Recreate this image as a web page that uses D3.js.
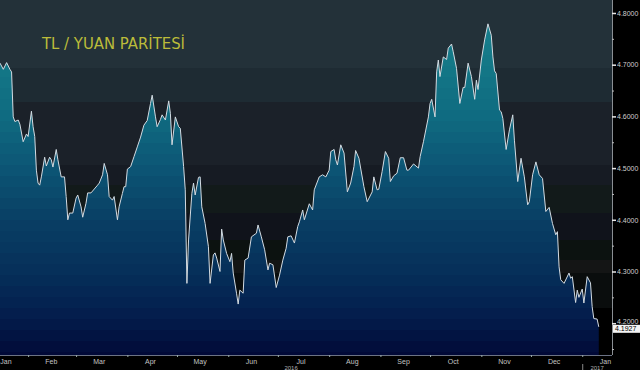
<!DOCTYPE html>
<html>
<head>
<meta charset="utf-8">
<script src="https://cdn.jsdelivr.net/npm/d3@7"></script>
<style>
  body { margin: 0; background: #000; }
  svg { display: block; }
</style>
</head>
<body>
<div class="chart"></div>
<script>
// values
var dates = [
  "2016-01-15","2016-01-17","2016-01-19","2016-01-21","2016-01-22","2016-01-23","2016-01-24","2016-01-26","2016-01-27","2016-01-29",
  "2016-01-31","2016-02-01","2016-02-03","2016-02-04","2016-02-05","2016-02-06","2016-02-07","2016-02-08","2016-02-09","2016-02-11",
  "2016-02-12","2016-02-14","2016-02-15","2016-02-16","2016-02-18","2016-02-19","2016-02-21","2016-02-23","2016-02-24","2016-02-25",
  "2016-02-26","2016-02-28","2016-03-01","2016-03-02","2016-03-04","2016-03-05","2016-03-07","2016-03-08","2016-03-10","2016-03-14",
  "2016-03-15","2016-03-17","2016-03-18","2016-03-20","2016-03-21","2016-03-23","2016-03-24","2016-03-26","2016-03-27","2016-03-29",
  "2016-03-30","2016-03-31","2016-04-01","2016-04-03","2016-04-05","2016-04-07","2016-04-09","2016-04-11","2016-04-13","2016-04-15",
  "2016-04-16","2016-04-18","2016-04-19","2016-04-21","2016-04-22","2016-04-24","2016-04-26","2016-04-27","2016-04-28","2016-04-30",
  "2016-05-02","2016-05-03","2016-05-05","2016-05-06","2016-05-07","2016-05-08","2016-05-10","2016-05-11","2016-05-12","2016-05-14",
  "2016-05-15","2016-05-16","2016-05-18","2016-05-20","2016-05-21","2016-05-23","2016-05-24","2016-05-25","2016-05-27","2016-05-28",
  "2016-05-29","2016-05-31","2016-06-02","2016-06-03","2016-06-04","2016-06-06","2016-06-07","2016-06-08","2016-06-10","2016-06-11",
  "2016-06-13","2016-06-15","2016-06-18","2016-06-19","2016-06-21","2016-06-23","2016-06-25","2016-06-26","2016-06-28","2016-06-30",
  "2016-07-02","2016-07-04","2016-07-06","2016-07-07","2016-07-09","2016-07-11","2016-07-13","2016-07-14","2016-07-16","2016-07-17",
  "2016-07-20","2016-07-22","2016-07-23","2016-07-26","2016-07-28","2016-07-30","2016-08-01","2016-08-02","2016-08-04","2016-08-05",
  "2016-08-06","2016-08-08","2016-08-10","2016-08-12","2016-08-14","2016-08-16","2016-08-17","2016-08-19","2016-08-22","2016-08-24",
  "2016-08-27","2016-08-28","2016-08-30","2016-08-31","2016-09-02","2016-09-04","2016-09-06","2016-09-07","2016-09-09","2016-09-11",
  "2016-09-13","2016-09-15","2016-09-17","2016-09-18","2016-09-21","2016-09-24","2016-09-25","2016-09-27","2016-09-30","2016-10-01",
  "2016-10-02","2016-10-04","2016-10-05","2016-10-06","2016-10-07","2016-10-09","2016-10-11","2016-10-12","2016-10-14","2016-10-15",
  "2016-10-17","2016-10-19","2016-10-21","2016-10-22","2016-10-24","2016-10-26","2016-10-28","2016-10-29","2016-10-30","2016-11-01",
  "2016-11-03","2016-11-05","2016-11-07","2016-11-08","2016-11-09","2016-11-10","2016-11-12","2016-11-13","2016-11-14","2016-11-16",
  "2016-11-18","2016-11-20","2016-11-21","2016-11-23","2016-11-25","2016-11-27","2016-11-29","2016-11-30","2016-12-02","2016-12-04",
  "2016-12-06","2016-12-08","2016-12-10","2016-12-12","2016-12-14","2016-12-16","2016-12-17","2016-12-18","2016-12-19","2016-12-21",
  "2016-12-24","2016-12-25","2016-12-26","2016-12-28","2016-12-29","2016-12-30","2017-01-01","2017-01-02","2017-01-04","2017-01-06",
  "2017-01-07","2017-01-08","2017-01-10","2017-01-11"
];
var values = [
  4.703,4.691,4.704,4.691,4.686,4.599,4.590,4.593,4.585,4.551,
  4.566,4.561,4.610,4.580,4.561,4.496,4.471,4.467,4.483,4.521,
  4.504,4.521,4.516,4.502,4.536,4.516,4.483,4.483,4.445,4.400,
  4.413,4.413,4.442,4.448,4.425,4.405,4.432,4.452,4.452,4.467,
  4.471,4.487,4.509,4.487,4.445,4.438,4.445,4.400,4.425,4.451,
  4.464,4.464,4.498,4.503,4.522,4.541,4.560,4.583,4.592,4.625,
  4.641,4.599,4.580,4.594,4.603,4.593,4.630,4.606,4.545,4.599,
  4.580,4.577,4.503,4.458,4.277,4.361,4.451,4.471,4.448,4.482,
  4.483,4.425,4.393,4.348,4.277,4.332,4.336,4.326,4.300,4.382,
  4.361,4.335,4.319,4.335,4.297,4.258,4.237,4.264,4.258,4.322,
  4.326,4.367,4.374,4.390,4.367,4.342,4.303,4.316,4.313,4.269,
  4.293,4.322,4.345,4.367,4.369,4.355,4.387,4.396,4.419,4.400,
  4.431,4.419,4.458,4.483,4.487,4.483,4.496,4.532,4.536,4.516,
  4.506,4.545,4.529,4.454,4.471,4.503,4.534,4.519,4.464,4.435,
  4.454,4.483,4.458,4.459,4.493,4.532,4.519,4.474,4.485,4.490,
  4.520,4.520,4.496,4.496,4.508,4.500,4.522,4.551,4.599,4.625,
  4.633,4.599,4.686,4.709,4.677,4.715,4.710,4.732,4.740,4.725,
  4.693,4.625,4.656,4.656,4.703,4.677,4.633,4.670,4.652,4.709,
  4.748,4.779,4.757,4.715,4.688,4.683,4.612,4.609,4.596,4.536,
  4.574,4.603,4.554,4.474,4.519,4.483,4.429,4.435,4.487,4.512,
  4.487,4.480,4.416,4.424,4.393,4.371,4.377,4.309,4.284,4.277,
  4.297,4.287,4.290,4.240,4.264,4.250,4.266,4.239,4.290,4.278,
  4.232,4.209,4.208,4.193
];
var yTicks = [4.2, 4.3, 4.4, 4.5, 4.6, 4.7, 4.8];
var yMinorTicks = [4.15, 4.25, 4.35, 4.45, 4.55, 4.65, 4.75];
var yearLabels = ["2016", "2017"];
var lastLabel = "4.1927";
var title = "TL / YUAN PARİTESİ";

//set chart
var svgWidth = 640;
var svgHeight = 370;
var plotRight = 612;
var plotBottom = 355;

var svg = d3.select(".chart")
  .append("svg")
  .attr("width", svgWidth)
  .attr("height", svgHeight)
  .style("background", "#000");

var parseDate = d3.timeParse("%Y-%m-%d");
var data = dates.map(function(d, i) {
  return { date: parseDate(d), value: values[i] };
});

var x = d3.scaleTime()
  .domain([parseDate("2016-01-15"), parseDate("2017-01-19")])
  .range([0, plotRight]);
var y = d3.scaleLinear()
  .domain([4.1385, 4.8251])
  .range([plotBottom, 0]);

//background bands, dark slate fading to black
var bgEdges = [0, 68, 102, 165, 185, 213, 240, 260, 273, 308, plotBottom];
var bgColors = ["#233139", "#1e2b33", "#1b2129", "#161b23", "#121a1a",
                "#10131b", "#0c1210", "#141515", "#0a0d0d", "#000000"];
svg.append("g").selectAll("rect")
  .data(bgColors)
  .enter()
  .append("rect")
  .attr("x", 0)
  .attr("y", function(d, i) { return bgEdges[i]; })
  .attr("width", plotRight)
  .attr("height", function(d, i) { return bgEdges[i + 1] - bgEdges[i]; })
  .attr("fill", function(d) { return d; });

//stepped gradient for the area
var fillColor = d3.scaleLinear()
  .domain([0, 70, 120, 170, 220, 270, 310, 355])
  .range(["#1a8391", "#137686", "#0f6a80", "#0c5474", "#093f64", "#06305a", "#04204f", "#010a38"]);
var defs = svg.append("defs");
var grad = defs.append("linearGradient")
  .attr("id", "areaGrad")
  .attr("gradientUnits", "userSpaceOnUse")
  .attr("x1", 0).attr("x2", 0)
  .attr("y1", 0).attr("y2", plotBottom);
var step = 11;
for (var s = 0; s < plotBottom; s += step) {
  var c = fillColor(s + step / 2);
  var e = Math.min(s + step, plotBottom);
  grad.append("stop").attr("offset", s / plotBottom).attr("stop-color", c);
  grad.append("stop").attr("offset", e / plotBottom).attr("stop-color", c);
}

var area = d3.area()
  .x(function(d) { return x(d.date); })
  .y0(plotBottom)
  .y1(function(d) { return y(d.value); });
var line = d3.line()
  .x(function(d) { return x(d.date); })
  .y(function(d) { return y(d.value); });

svg.append("path")
  .datum(data)
  .attr("d", area)
  .attr("fill", "url(#areaGrad)");
svg.append("path")
  .datum(data)
  .attr("d", line)
  .attr("fill", "none")
  .attr("stroke", "#d3dbe2")
  .attr("stroke-width", 1);

//title
svg.append("text")
  .attr("x", 42)
  .attr("y", 49)
  .attr("textLength", 143)
  .attr("lengthAdjust", "spacingAndGlyphs")
  .style("font-family", "DejaVu Sans")
  .style("font-size", "16px")
  .attr("fill", "#bcbc3a")
  .text(title);

//right axis
var rightAxis = d3.axisRight(y)
  .tickValues(yTicks)
  .tickSize(4)
  .tickFormat(d3.format(".4f"));
var gy = svg.append("g")
  .attr("transform", "translate(" + plotRight + ",0)")
  .call(rightAxis);
gy.select(".domain").attr("stroke", "#8a8f94").attr("d", "M0.5,0V" + plotBottom);
gy.selectAll(".tick line").attr("stroke", "#e8e8e8").attr("stroke-width", 1.5);
gy.selectAll(".tick text")
  .attr("x", 5)
  .attr("fill", "#cfcfcf")
  .style("font-family", "Liberation Sans")
  .style("font-size", "7px");
// lowest label sits just above the last-value flag
gy.selectAll(".tick text")
  .filter(function(d) { return d === 4.2; })
  .attr("dy", "0.1em");

var gyMinor = svg.append("g")
  .attr("transform", "translate(" + plotRight + ",0)")
  .call(d3.axisRight(y).tickValues(yMinorTicks).tickSize(2).tickFormat(""));
gyMinor.select(".domain").remove();
gyMinor.selectAll(".tick line").attr("stroke", "#bbb");

//last value flag
var last = data[data.length - 1];
svg.append("rect")
  .attr("x", plotRight + 1)
  .attr("y", y(last.value) - 2)
  .attr("width", 27)
  .attr("height", 8)
  .attr("fill", "#f4f4f4");
svg.append("text")
  .attr("x", plotRight + 3)
  .attr("y", y(last.value) + 4.5)
  .attr("fill", "#000")
  .style("font-family", "Liberation Sans")
  .style("font-size", "7px")
  .text(lastLabel);

//bottom axis, ticks at month starts
var bottomAxis = d3.axisBottom(x)
  .ticks(d3.timeMonth.every(1))
  .tickSize(2)
  .tickFormat("");
var gx = svg.append("g")
  .attr("transform", "translate(0," + plotBottom + ")")
  .call(bottomAxis);
gx.select(".domain").attr("stroke", "#6c7384").attr("d", "M0,0.5H" + plotRight);
gx.selectAll(".tick line").attr("stroke", "#9aa");

//month names at mid-month
var months = d3.timeMonth.range(parseDate("2016-01-01"), parseDate("2017-02-01"));
var fmtMonth = d3.timeFormat("%b");
svg.append("g").selectAll("text")
  .data(months)
  .enter()
  .append("text")
  .attr("x", function(d) { return Math.max(6, x(d3.timeDay.offset(d, 14))); })
  .attr("y", 364)
  .attr("text-anchor", "middle")
  .attr("fill", "#c4c4c4")
  .style("font-family", "Liberation Sans")
  .style("font-size", "7px")
  .text(function(d) { return fmtMonth(d); });

//year labels centred on visible part of each year
var yearStart = parseDate("2017-01-01");
svg.append("line")
  .attr("x1", x(yearStart) + 0.5).attr("x2", x(yearStart) + 0.5)
  .attr("y1", 364).attr("y2", 370)
  .attr("stroke", "#888");
var yearCenters = [x(yearStart) / 2, (x(yearStart) + plotRight) / 2];
svg.append("g").selectAll("text")
  .data(yearLabels)
  .enter()
  .append("text")
  .attr("x", function(d, i) { return yearCenters[i]; })
  .attr("y", 370)
  .attr("text-anchor", "middle")
  .attr("fill", "#b0b0b0")
  .style("font-family", "Liberation Sans")
  .style("font-size", "6px")
  .text(function(d) { return d; });
</script>
</body>
</html>
